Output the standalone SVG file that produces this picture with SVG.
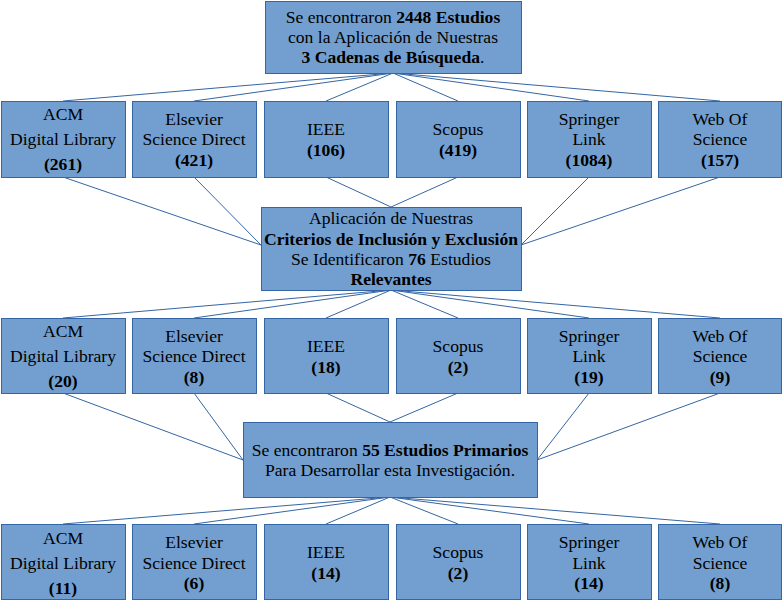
<svg xmlns="http://www.w3.org/2000/svg" width="783" height="601" viewBox="0 0 783 601">
<style>
.b{fill:#729fcf;stroke:#3465a4;stroke-width:1}
.t{font-family:"Liberation Serif","Times New Roman",serif;font-size:17.6px;fill:#000;text-anchor:middle}
.k{font-weight:bold}
#connectors line{stroke:#3465a4;stroke-width:1}
</style>
<rect width="783" height="601" fill="#fff"/>
<g id="connectors">
<line x1="393" y1="73" x2="63" y2="101"/><line x1="393" y1="73" x2="194" y2="101"/><line x1="393" y1="73" x2="326" y2="101"/><line x1="393" y1="73" x2="458" y2="101"/><line x1="393" y1="73" x2="589" y2="101"/><line x1="393" y1="73" x2="720" y2="101"/>
<line x1="63" y1="177" x2="261" y2="245"/><line x1="194" y1="177" x2="261" y2="245"/><line x1="326" y1="177" x2="391" y2="207"/><line x1="458" y1="177" x2="391" y2="207"/><line x1="589" y1="177" x2="521" y2="245"/><line x1="720" y1="177" x2="521" y2="245"/>
<line x1="391" y1="290" x2="63" y2="318"/><line x1="391" y1="290" x2="194" y2="318"/><line x1="391" y1="290" x2="326" y2="318"/><line x1="391" y1="290" x2="458" y2="318"/><line x1="391" y1="290" x2="589" y2="318"/><line x1="391" y1="290" x2="720" y2="318"/>
<line x1="63" y1="393" x2="243" y2="460"/><line x1="194" y1="393" x2="243" y2="460"/><line x1="326" y1="393" x2="390" y2="422"/><line x1="458" y1="393" x2="390" y2="422"/><line x1="589" y1="393" x2="537" y2="460"/><line x1="720" y1="393" x2="537" y2="460"/>
<line x1="390" y1="497" x2="63" y2="524"/><line x1="390" y1="497" x2="194" y2="524"/><line x1="390" y1="497" x2="326" y2="524"/><line x1="390" y1="497" x2="458" y2="524"/><line x1="390" y1="497" x2="589" y2="524"/><line x1="390" y1="497" x2="720" y2="524"/>
</g>
<g id="top"><rect class="b" x="265.5" y="1.5" width="256" height="72"/>
<text class="t" x="393" y="23">Se encontraron <tspan class="k">2448 Estudios</tspan></text>
<text class="t" x="393" y="43">con la Aplicación de Nuestras</text>
<text class="t" x="393" y="63"><tspan class="k">3 Cadenas de Búsqueda</tspan>.</text></g>

<g id="r1-acm"><rect class="b" x="1.5" y="101.5" width="124" height="76"/>
<text class="t" x="63" y="120">ACM</text><text class="t" x="63" y="145">Digital Library</text><text class="t k" x="63" y="170">(261)</text></g>
<g id="r1-els"><rect class="b" x="132.5" y="101.5" width="124" height="76"/>
<text class="t" x="194" y="125">Elsevier</text><text class="t" x="194" y="145">Science Direct</text><text class="t k" x="194" y="166">(421)</text></g>
<g id="r1-ieee"><rect class="b" x="264.5" y="101.5" width="124" height="76"/>
<text class="t" x="326" y="135">IEEE</text><text class="t k" x="326" y="156">(106)</text></g>
<g id="r1-sco"><rect class="b" x="396.5" y="101.5" width="124" height="76"/>
<text class="t" x="458" y="135">Scopus</text><text class="t k" x="458" y="156">(419)</text></g>
<g id="r1-spr"><rect class="b" x="527.5" y="101.5" width="124" height="76"/>
<text class="t" x="589" y="125">Springer</text><text class="t" x="589" y="145">Link</text><text class="t k" x="589" y="166">(1084)</text></g>
<g id="r1-wos"><rect class="b" x="658.5" y="101.5" width="123" height="76"/>
<text class="t" x="720" y="125">Web Of</text><text class="t" x="720" y="145">Science</text><text class="t k" x="720" y="166">(157)</text></g>

<g id="mid"><rect class="b" x="261.5" y="207.5" width="260" height="83"/>
<text class="t" x="391" y="224">Aplicación de Nuestras</text>
<text class="t k" x="391" y="245">Criterios de Inclusión y Exclusión</text>
<text class="t" x="391" y="265">Se Identificaron <tspan class="k">76</tspan> Estudios</text>
<text class="t k" x="391" y="285">Relevantes</text></g>

<g id="r2-acm"><rect class="b" x="1.5" y="318.5" width="124" height="75"/>
<text class="t" x="63" y="337">ACM</text><text class="t" x="63" y="362">Digital Library</text><text class="t k" x="63" y="387">(20)</text></g>
<g id="r2-els"><rect class="b" x="132.5" y="318.5" width="124" height="75"/>
<text class="t" x="194" y="342">Elsevier</text><text class="t" x="194" y="362">Science Direct</text><text class="t k" x="194" y="383">(8)</text></g>
<g id="r2-ieee"><rect class="b" x="264.5" y="318.5" width="124" height="75"/>
<text class="t" x="326" y="352">IEEE</text><text class="t k" x="326" y="373">(18)</text></g>
<g id="r2-sco"><rect class="b" x="396.5" y="318.5" width="124" height="75"/>
<text class="t" x="458" y="352">Scopus</text><text class="t k" x="458" y="373">(2)</text></g>
<g id="r2-spr"><rect class="b" x="527.5" y="318.5" width="124" height="75"/>
<text class="t" x="589" y="342">Springer</text><text class="t" x="589" y="362">Link</text><text class="t k" x="589" y="383">(19)</text></g>
<g id="r2-wos"><rect class="b" x="658.5" y="318.5" width="123" height="75"/>
<text class="t" x="720" y="342">Web Of</text><text class="t" x="720" y="362">Science</text><text class="t k" x="720" y="383">(9)</text></g>

<g id="final"><rect class="b" x="243.5" y="422.5" width="294" height="75"/>
<text class="t" x="390" y="456">Se encontraron <tspan class="k">55 Estudios Primarios</tspan></text>
<text class="t" x="390" y="476">Para Desarrollar esta Investigación.</text></g>

<g id="r3-acm"><rect class="b" x="1.5" y="524.5" width="124" height="75"/>
<text class="t" x="63" y="544">ACM</text><text class="t" x="63" y="569">Digital Library</text><text class="t k" x="63" y="594">(11)</text></g>
<g id="r3-els"><rect class="b" x="132.5" y="524.5" width="124" height="75"/>
<text class="t" x="194" y="548">Elsevier</text><text class="t" x="194" y="569">Science Direct</text><text class="t k" x="194" y="589">(6)</text></g>
<g id="r3-ieee"><rect class="b" x="264.5" y="524.5" width="124" height="75"/>
<text class="t" x="326" y="558">IEEE</text><text class="t k" x="326" y="579">(14)</text></g>
<g id="r3-sco"><rect class="b" x="396.5" y="524.5" width="124" height="75"/>
<text class="t" x="458" y="558">Scopus</text><text class="t k" x="458" y="579">(2)</text></g>
<g id="r3-spr"><rect class="b" x="527.5" y="524.5" width="124" height="75"/>
<text class="t" x="589" y="548">Springer</text><text class="t" x="589" y="569">Link</text><text class="t k" x="589" y="589">(14)</text></g>
<g id="r3-wos"><rect class="b" x="658.5" y="524.5" width="123" height="75"/>
<text class="t" x="720" y="548">Web Of</text><text class="t" x="720" y="569">Science</text><text class="t k" x="720" y="589">(8)</text></g>
</svg>
